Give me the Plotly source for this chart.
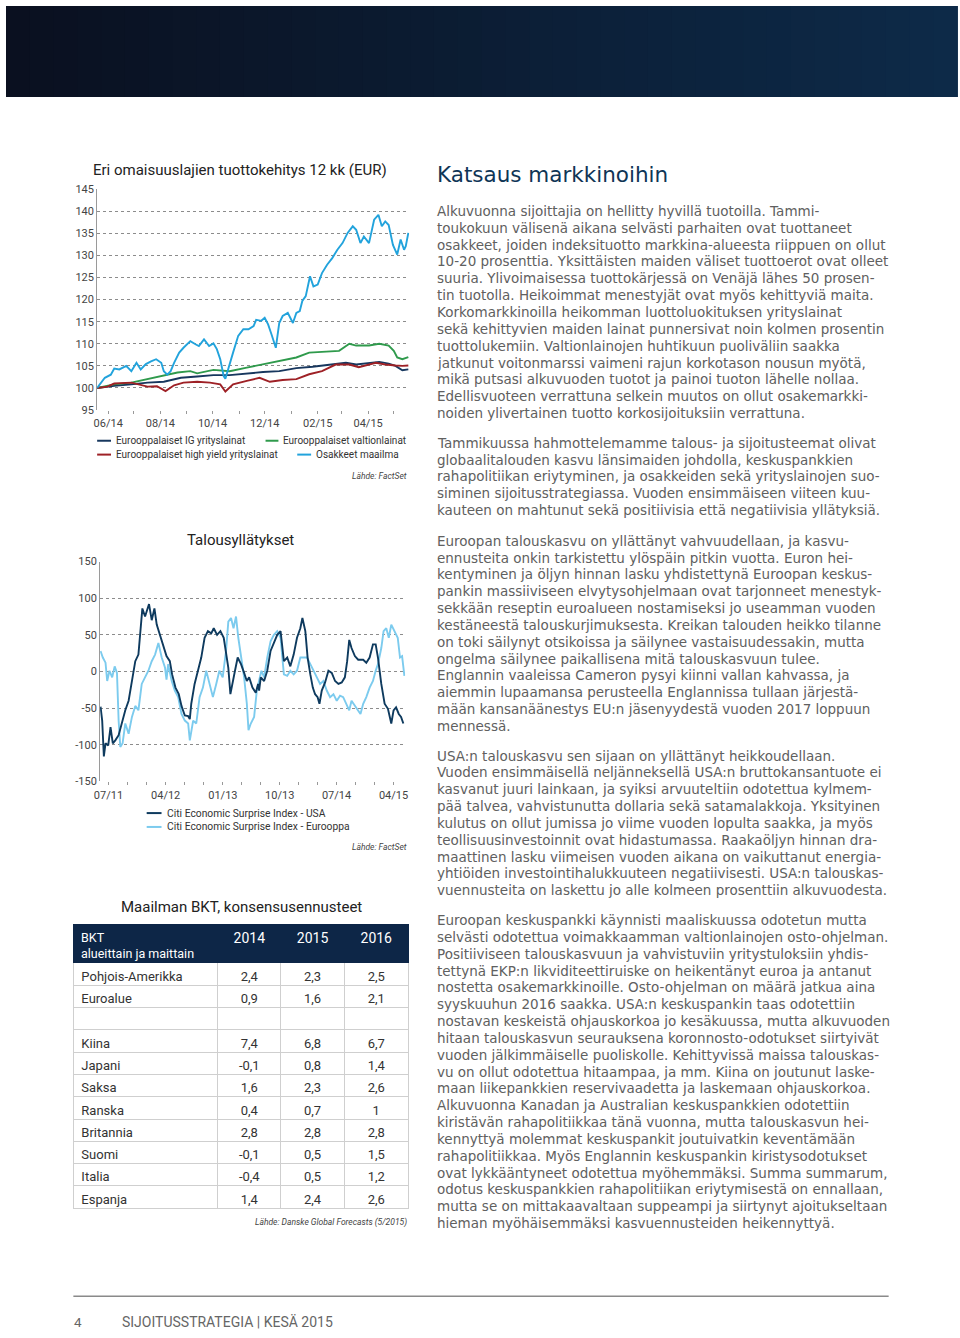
import plotly.graph_objects as go

W, H = 960, 1338
def X(px): return px / W
def Y(py): return 1 - py / H

# ------------------------------------------------------------------ data: chart 1
c1_title = "Eri omaisuuslajien tuottokehitys 12 kk (EUR)"
eq_dates = ["2014-05-19","2014-05-28","2014-06-04","2014-06-08","2014-06-14","2014-06-22","2014-06-28",
            "2014-07-04","2014-07-09","2014-07-15","2014-07-21","2014-07-27","2014-08-02","2014-08-05",
            "2014-08-09","2014-08-13","2014-08-17","2014-08-23","2014-08-28","2014-09-05","2014-09-11",
            "2014-09-15","2014-09-21","2014-09-27","2014-10-02","2014-10-06","2014-10-10","2014-10-14",
            "2014-10-16","2014-10-20","2014-10-25","2014-10-31","2014-11-06","2014-11-12","2014-11-18",
            "2014-11-21","2014-11-27","2014-12-01","2014-12-05","2014-12-09","2014-12-14","2014-12-18",
            "2014-12-22","2014-12-28","2015-01-03","2015-01-07","2015-01-11","2015-01-14","2015-01-18",
            "2015-01-23","2015-01-27","2015-02-01","2015-02-06","2015-02-12","2015-02-18","2015-02-24",
            "2015-03-02","2015-03-08","2015-03-14","2015-03-18","2015-03-23","2015-03-27","2015-04-02",
            "2015-04-08","2015-04-13","2015-04-17","2015-04-21","2015-04-25","2015-04-30","2015-05-05",
            "2015-05-09","2015-05-13","2015-05-15","2015-05-18"]
eq_vals = [100,102.3,103,104.4,104.2,105,103.8,105.7,104.2,105.4,106,106.5,105.7,103.8,103,103.8,105.7,
           108,109.1,110.6,109.9,109.5,111,109.5,110.1,108.8,106.5,102.7,102.1,105,108,111.8,113.3,113.3,
           114,115.4,115.2,115.9,114.4,112.1,109.1,114.7,116.3,117,114.7,117,117.4,119.7,120.8,125.3,123,
           123.4,126,127.9,129.4,131.3,132.8,135.1,136.6,135.8,132.8,134.3,132.8,138.1,139.2,136.6,137.7,
           136.9,132.4,130.2,133.6,131.3,132.1,135.1]

gov_dates = ["2014-05-19","2014-06-08","2014-06-28","2014-07-17","2014-08-05","2014-08-21","2014-09-05",
             "2014-09-13","2014-10-02","2014-10-21","2014-11-10","2014-11-29","2014-12-18","2015-01-07",
             "2015-01-22","2015-02-15","2015-02-26","2015-03-10","2015-03-18","2015-04-02","2015-04-14",
             "2015-04-25","2015-05-01","2015-05-05","2015-05-11","2015-05-18"]
gov_vals = [100,100.8,101.2,102,102.7,103.5,103.8,103.3,104.1,103.8,104.6,105.4,106.1,106.9,108,108.2,
            108.4,110,109.6,109.6,110,109.6,108.4,106.9,106.5,107]

ig_dates = ["2014-05-19","2014-06-08","2014-06-28","2014-07-17","2014-08-05","2014-08-25","2014-09-13",
            "2014-10-02","2014-10-21","2014-11-10","2014-11-29","2014-12-18","2015-01-07","2015-01-26",
            "2015-02-15","2015-03-06","2015-03-18","2015-04-02","2015-04-14","2015-04-25","2015-05-03",
            "2015-05-11","2015-05-18"]
ig_vals = [100,100.5,100.8,101.2,101.4,102.3,102.6,102.9,102.9,103.3,103.6,103.8,104.5,104.8,105.3,105.7,
           105.3,105.7,105.9,105.5,105,104,104.2]

hy_dates = ["2014-05-19","2014-05-31","2014-06-08","2014-06-28","2014-07-17","2014-07-28","2014-08-07",
            "2014-08-17","2014-08-28","2014-09-13","2014-09-28","2014-10-10","2014-10-16","2014-10-25",
            "2014-11-10","2014-11-25","2014-12-07","2014-12-22","2015-01-07","2015-01-22","2015-02-06",
            "2015-02-22","2015-03-10","2015-03-21","2015-04-10","2015-04-21","2015-05-03","2015-05-11",
            "2015-05-18"]
hy_vals = [100,100.3,101,101.2,100.3,100.4,99.3,100.6,101.2,101.4,101.2,100.8,99.2,100.8,101.6,102.3,
           101.4,101.8,102,103.1,103.8,105.3,105.3,104.7,105.7,105.3,105.1,105,105.1]

c1_names = ["Eurooppalaiset IG yrityslainat", "Eurooppalaiset valtionlainat",
            "Eurooppalaiset high yield yrityslainat", "Osakkeet maailma"]
c1_tickvals = ["2014-06-01","2014-07-01","2014-08-01","2014-09-01","2014-10-01","2014-11-01",
               "2014-12-01","2015-01-01","2015-02-01","2015-03-01","2015-04-01","2015-05-01"]
c1_ticktext = ["06/14","","08/14","","10/14","","12/14","","02/15","","04/15",""]
c1_yticks = [95, 100, 105, 110, 115, 120, 125, 130, 135, 140, 145]

# ------------------------------------------------------------------ data: chart 2
c2_title = "Talousyllätykset"
usa_dates = ["2011-05-24","2011-06-01","2011-06-09","2011-06-17","2011-06-30","2011-07-11","2011-07-22",
             "2011-08-03","2011-08-19","2011-09-04","2011-09-20","2011-10-06","2011-10-22","2011-11-07",
             "2011-11-22","2011-11-30","2011-12-11","2011-12-24","2012-01-12","2012-01-25","2012-02-07",
             "2012-02-18","2012-03-05","2012-03-21","2012-04-05","2012-04-21","2012-05-02","2012-05-18",
             "2012-06-03","2012-06-16","2012-07-02","2012-07-18","2012-07-26","2012-08-02","2012-08-18",
             "2012-09-03","2012-09-19","2012-10-05","2012-10-21","2012-11-06","2012-11-18","2012-12-04",
             "2012-12-20","2013-01-05","2013-01-16","2013-01-27","2013-02-06","2013-02-17","2013-02-28",
             "2013-03-13","2013-03-29","2013-04-13","2013-04-26","2013-05-07","2013-05-23","2013-06-08",
             "2013-06-19","2013-06-24","2013-07-02","2013-07-18","2013-08-02","2013-08-18","2013-09-03",
             "2013-09-19","2013-10-05","2013-10-21","2013-11-06","2013-11-21","2013-12-07","2013-12-23",
             "2014-01-08","2014-01-18","2014-02-01","2014-02-12","2014-02-25","2014-03-09","2014-03-20",
             "2014-04-01","2014-04-10","2014-04-21","2014-05-07","2014-05-23","2014-06-08","2014-06-24",
             "2014-07-10","2014-07-26","2014-08-10","2014-08-21","2014-08-31","2014-09-11","2014-09-27",
             "2014-10-13","2014-11-06","2014-11-21","2014-12-07","2014-12-23","2015-01-05","2015-01-16",
             "2015-02-01","2015-02-17","2015-03-05","2015-03-21","2015-04-01","2015-04-13","2015-04-26",
             "2015-05-07","2015-05-18"]
usa_vals = [-48,-67,-116,-98,-101,-76,-98,-94,-87,-69,-53,-40,-13,14,23,50,86,75,92,70,86,64,50,37,21,14,
            -4,-22,-31,-47,-60,-61,-65,-44,-17,1,19,46,55,52,59,50,55,46,28,5,-31,-13,1,19,10,-2,-13,-8,
            -22,-29,-17,-26,-8,-13,1,28,39,50,55,14,19,7,23,46,59,73,55,19,-4,-22,-31,-35,-44,-26,-15,1,
            -2,-13,-17,-15,-8,14,43,32,21,16,16,12,19,37,37,19,-17,-44,-51,-71,-53,-49,-58,-62,-71]

eur_dates = ["2011-05-24","2011-06-04","2011-06-17","2011-06-25","2011-07-06","2011-07-19","2011-07-31",
             "2011-08-11","2011-08-19","2011-08-27","2011-09-07","2011-09-20","2011-10-06","2011-10-22",
             "2011-11-07","2011-11-22","2011-12-08","2011-12-24","2012-01-09","2012-01-25","2012-02-10",
             "2012-02-26","2012-03-13","2012-03-29","2012-04-05","2012-04-13","2012-04-30","2012-05-15",
             "2012-05-31","2012-06-16","2012-07-02","2012-07-18","2012-07-26","2012-08-11","2012-08-26",
             "2012-09-11","2012-09-27","2012-10-13","2012-10-29","2012-11-14","2012-11-30","2012-12-15",
             "2012-12-31","2013-01-16","2013-01-27","2013-02-09","2013-02-21","2013-03-05","2013-03-16",
             "2013-03-29","2013-04-13","2013-04-26","2013-05-04","2013-05-15","2013-05-31","2013-06-13",
             "2013-06-24","2013-07-05","2013-07-18","2013-08-02","2013-08-18","2013-09-03","2013-09-19",
             "2013-10-05","2013-10-21","2013-11-06","2013-11-21","2013-12-07","2013-12-23","2014-01-08",
             "2014-01-24","2014-02-09","2014-02-25","2014-03-13","2014-03-29","2014-04-13","2014-04-29",
             "2014-05-15","2014-05-31","2014-06-16","2014-07-02","2014-07-18","2014-08-02","2014-08-15",
             "2014-08-31","2014-09-11","2014-09-27","2014-10-13","2014-10-24","2014-11-06","2014-11-21",
             "2014-12-07","2014-12-23","2015-01-05","2015-01-16","2015-02-01","2015-02-12","2015-02-25",
             "2015-03-09","2015-03-21","2015-04-05","2015-04-21","2015-05-02","2015-05-12","2015-05-23"]
eur_vals = [28,19,12,-13,1,-8,7,-2,-67,-103,-98,-71,-85,-62,-47,-53,-17,-8,1,14,23,39,19,5,-11,10,-13,
            -26,-35,-58,-67,-71,-94,-67,-71,-35,-22,1,-17,-35,-17,1,-8,28,68,73,59,75,46,19,-8,-44,-80,
            -71,-62,-26,-13,1,-8,19,41,50,55,46,-4,-6,1,-4,1,19,19,19,10,1,-8,-17,-13,-26,-35,-31,-40,
            -33,-35,-44,-53,-40,-47,-53,-58,-44,-35,-22,-13,1,10,32,55,59,46,64,55,46,19,21,-6]

c2_names = ["Citi Economic Surprise Index - USA", "Citi Economic Surprise Index - Eurooppa"]
c2_tickvals = ["2011-07-01","2011-10-01","2012-01-01","2012-04-01","2012-07-01","2012-10-01",
               "2013-01-01","2013-04-01","2013-07-01","2013-10-01","2014-01-01","2014-04-01",
               "2014-07-01","2014-10-01","2015-01-01","2015-04-01"]
c2_ticktext = ["07/11","","","04/12","","","01/13","","","10/13","","","07/14","","","04/15"]
c2_yticks = [-150, -100, -50, 0, 50, 100, 150]
c2_yticktext = ["-150", "-100", "-50", "0", "50", "100", "150"]

# ------------------------------------------------------------------ data: table
tbl_title = "Maailman BKT, konsensusennusteet"
tbl_first_header = "BKT<br>alueittain ja maittain"
tbl_years = ["2014", "2015", "2016"]
tbl_regions = ["Pohjois-Amerikka", "Euroalue", "", "Kiina", "Japani", "Saksa", "Ranska",
               "Britannia", "Suomi", "Italia", "Espanja"]
gdp_2014 = ["2,4", "0,9", "", "7,4", "-0,1", "1,6", "0,4", "2,8", "-0,1", "-0,4", "1,4"]
gdp_2015 = ["2,3", "1,6", "", "6,8", "0,8", "2,3", "0,7", "2,8", "0,5", "0,5", "2,4"]
gdp_2016 = ["2,5", "2,1", "", "6,7", "1,4", "2,6", "1", "2,8", "1,5", "1,2", "2,6"]

# ------------------------------------------------------------------ text
heading = "Katsaus markkinoihin"
paragraphs = [
    ["Alkuvuonna sijoittajia on hellitty hyvillä tuotoilla. Tammi-",
     "toukokuun välisenä aikana selvästi parhaiten ovat tuottaneet",
     "osakkeet, joiden indeksituotto markkina-alueesta riippuen on ollut",
     "10-20 prosenttia. Yksittäisten maiden väliset tuottoerot ovat olleet",
     "suuria. Ylivoimaisessa tuottokärjessä on Venäjä lähes 50 prosen-",
     "tin tuotolla. Heikoimmat menestyjät ovat myös kehittyviä maita.",
     "Korkomarkkinoilla heikomman luottoluokituksen yrityslainat",
     "sekä kehittyvien maiden lainat punnersivat noin kolmen prosentin",
     "tuottolukemiin. Valtionlainojen huhtikuun puoliväliin saakka",
     "jatkunut voitonmarssi vaimeni rajun korkotason nousun myötä,",
     "mikä putsasi alkuvuoden tuotot ja painoi tuoton lähelle nollaa.",
     "Edellisvuoteen verrattuna selkein muutos on ollut osakemarkki-",
     "noiden ylivertainen tuotto korkosijoituksiin verrattuna."],
    ["Tammikuussa hahmottelemamme talous- ja sijoitusteemat olivat",
     "globaalitalouden kasvu länsimaiden johdolla, keskuspankkien",
     "rahapolitiikan eriytyminen, ja osakkeiden sekä yrityslainojen suo-",
     "siminen sijoitusstrategiassa. Vuoden ensimmäiseen viiteen kuu-",
     "kauteen on mahtunut sekä positiivisia että negatiivisia yllätyksiä."],
    ["Euroopan talouskasvu on yllättänyt vahvuudellaan, ja kasvu-",
     "ennusteita onkin tarkistettu ylöspäin pitkin vuotta. Euron hei-",
     "kentyminen ja öljyn hinnan lasku yhdistettynä Euroopan keskus-",
     "pankin massiiviseen elvytysohjelmaan ovat tarjonneet menestyk-",
     "sekkään reseptin euroalueen nostamiseksi jo useamman vuoden",
     "kestäneestä talouskurjimuksesta. Kreikan talouden heikko tilanne",
     "on toki säilynyt otsikoissa ja säilynee vastaisuudessakin, mutta",
     "ongelma säilynee paikallisena mitä talouskasvuun tulee.",
     "Englannin vaaleissa Cameron pysyi kiinni vallan kahvassa, ja",
     "aiemmin lupaamansa perusteella Englannissa tullaan järjestä-",
     "mään kansanäänestys EU:n jäsenyydestä vuoden 2017 loppuun",
     "mennessä."],
    ["USA:n talouskasvu sen sijaan on yllättänyt heikkoudellaan.",
     "Vuoden ensimmäisellä neljänneksellä USA:n bruttokansantuote ei",
     "kasvanut juuri lainkaan, ja syiksi arvuuteltiin odotettua kylmem-",
     "pää talvea, vahvistunutta dollaria sekä satamalakkoja. Yksityinen",
     "kulutus on ollut jumissa jo viime vuoden lopulta saakka, ja myös",
     "teollisuusinvestoinnit ovat hidastumassa. Raakaöljyn hinnan dra-",
     "maattinen lasku viimeisen vuoden aikana on vaikuttanut energia-",
     "yhtiöiden investointihalukkuuteen negatiivisesti. USA:n talouskas-",
     "vuennusteita on laskettu jo alle kolmeen prosenttiin alkuvuodesta."],
    ["Euroopan keskuspankki käynnisti maaliskuussa odotetun mutta",
     "selvästi odotettua voimakkaamman valtionlainojen osto-ohjelman.",
     "Positiiviseen talouskasvuun ja vahvistuviin yritystuloksiin yhdis-",
     "tettynä EKP:n likviditeettiruiske on heikentänyt euroa ja antanut",
     "nostetta osakemarkkinoille. Osto-ohjelman on määrä jatkua aina",
     "syyskuuhun 2016 saakka. USA:n keskuspankin taas odotettiin",
     "nostavan keskeistä ohjauskorkoa jo kesäkuussa, mutta alkuvuoden",
     "hitaan talouskasvun seurauksena koronnosto-odotukset siirtyivät",
     "vuoden jälkimmäiselle puoliskolle. Kehittyvissä maissa talouskas-",
     "vu on ollut odotettua hitaampaa, ja mm. Kiina on joutunut laske-",
     "maan liikepankkien reservivaadetta ja laskemaan ohjauskorkoa.",
     "Alkuvuonna Kanadan ja Australian keskuspankkien odotettiin",
     "kiristävän rahapolitiikkaa tänä vuonna, mutta talouskasvun hei-",
     "kennyttyä molemmat keskuspankit joutuivatkin keventämään",
     "rahapolitiikkaa. Myös Englannin keskuspankin kiristysodotukset",
     "ovat lykkääntyneet odotettua myöhemmäksi. Summa summarum,",
     "odotus keskuspankkien rahapolitiikan eriytymisestä on ennallaan,",
     "mutta se on mittakaavaltaan suppeampi ja siirtynyt ajoitukseltaan",
     "hieman myöhäisemmäksi kasvuennusteiden heikennyttyä."],
]
para_start = [207, 441, 540, 757, 923]
footer_page = "4"
footer_text = "SIJOITUSSTRATEGIA | KESÄ 2015"

# ------------------------------------------------------------------ styles
FONT = "Roboto"
BODY = "DejaVu Sans"
NAVY = "#17375e"
GREEN = "#2f9a4c"
RED = "#9e2126"
SKY = "#22a3dc"
USA_C = "#0e3a5e"
EUR_C = "#7ccbee"
GRID = "#8c8c8c"
TICKF = dict(family=FONT, size=11, color="#444444")

fig = go.Figure()

for d, v, c in [(ig_dates, ig_vals, NAVY), (gov_dates, gov_vals, GREEN),
                (hy_dates, hy_vals, RED), (eq_dates, eq_vals, SKY)]:
    fig.add_trace(go.Scatter(x=d, y=v, mode="lines", line=dict(color=c, width=1.9),
                             xaxis="x", yaxis="y", showlegend=False, hoverinfo="skip"))
for d, v, c in [(eur_dates, eur_vals, EUR_C), (usa_dates, usa_vals, USA_C)]:
    fig.add_trace(go.Scatter(x=d, y=v, mode="lines", line=dict(color=c, width=1.9),
                             xaxis="x2", yaxis="y2", showlegend=False, hoverinfo="skip"))

HDR = "#0d2647"
fig.add_trace(go.Table(
    domain=dict(x=[X(68), X(407)], y=[Y(1262), Y(928)]),
    columnwidth=[146, 64, 64, 65],
    header=dict(values=[""] + tbl_years, fill_color=HDR, line_color=HDR,
                align=["left", "center", "center", "center"],
                font=dict(family=FONT, color="white", size=14),
                height=38),
    cells=dict(values=[tbl_regions, gdp_2014, gdp_2015, gdp_2016],
               fill_color="white", line_color="#cfcfcf",
               align=["left", "center", "center", "center"],
               font=dict(family=FONT, color="#333333", size=13), height=22.3)))

ann = []
shapes = []
def txt(s, px, py, size, color, xanchor="left", family=FONT):
    ann.append(dict(text=s, x=X(px), y=Y(py), xref="paper", yref="paper", showarrow=False,
                    xanchor=xanchor, yanchor="middle", align=xanchor if xanchor != "center" else "center",
                    font=dict(size=size, color=color, family=family)))
def hline(x0, x1, y, color, width):
    shapes.append(dict(type="line", xref="paper", yref="paper", x0=X(x0), x1=X(x1),
                       y0=Y(y), y1=Y(y), line=dict(color=color, width=width)))

# top band (gradient strips)
n = 40
c0, c1 = (10, 16, 32), (13, 42, 72)
for i in range(n):
    t = i / (n - 1)
    col = "rgb(%d,%d,%d)" % tuple(round(a + (b - a) * t) for a, b in zip(c0, c1))
    shapes.append(dict(type="rect", xref="paper", yref="paper", x0=i / n, x1=(i + 1) / n + 0.001,
                       y0=Y(92), y1=1, fillcolor=col, line=dict(width=0), layer="below"))

txt(c1_title, 86, 166, 15, "#222222")
hline(92, 106, 439, NAVY, 2); txt(c1_names[0], 109, 439, 10, "#333333")
hline(262, 275, 439, GREEN, 2); txt(c1_names[1], 278, 439, 10, "#333333")
hline(92, 106, 453, RED, 2); txt(c1_names[2], 109, 453, 10, "#333333")
hline(294, 308, 453, SKY, 2); txt(c1_names[3], 311, 453, 10, "#333333")
txt("<i>Lähde: FactSet</i>", 407, 475, 8.5, "#444444", "right")

txt(c2_title, 237, 539, 15, "#222222", "center")
hline(142, 157, 815, USA_C, 2); txt(c2_names[0], 161, 815, 10.3, "#333333")
hline(142, 157, 829, EUR_C, 2); txt(c2_names[1], 161, 829, 10.3, "#333333")
txt("<i>Lähde: FactSet</i>", 407, 849, 8.5, "#444444", "right")

txt(tbl_title, 238, 910, 15, "#222222", "center")
txt(tbl_first_header, 74, 949, 12.5, "white")
txt("<i>Lähde: Danske Global Forecasts (5/2015)</i>", 407, 1228, 8.5, "#444444", "right")

txt(heading, 433, 170, 21.5, "#0f3556", "left", BODY)
for start, lines in zip(para_start, paragraphs):
    for i, line in enumerate(lines):
        txt(line, 433, start + 17 * i, 13.5, "#606060", "left", BODY)

hline(68, 891, 1303, "#8a8a8a", 1.5)
txt(footer_page, 67, 1329, 13.5, "#666666")
txt(footer_text, 115, 1329, 14, "#666666")

fig.update_layout(
    width=W, height=H, autosize=False, margin=dict(l=0, r=0, t=0, b=0),
    paper_bgcolor="white", plot_bgcolor="white", showlegend=False,
    annotations=ann, shapes=shapes,
    xaxis=dict(domain=[X(92), X(407)], anchor="y", type="date",
               range=["2014-05-19", "2015-05-19"], tickmode="array",
               tickvals=c1_tickvals, ticktext=c1_ticktext, tickangle=0,
               ticks="outside", ticklen=3, tickcolor="#999999",
               showgrid=False, showline=False, zeroline=False, tickfont=TICKF),
    yaxis=dict(domain=[Y(408), Y(185)], anchor="x", range=[95, 145],
               tickmode="array", tickvals=c1_yticks,
               showgrid=True, gridcolor=GRID, griddash="dot", gridwidth=1,
               showline=True, linecolor="#9a9a9a", linewidth=1, ticks="",
               zeroline=False, tickfont=TICKF),
    xaxis2=dict(domain=[X(95), X(403)], anchor="y2", type="date",
                range=["2011-05-22", "2015-05-27"], tickmode="array",
                tickvals=c2_tickvals, ticktext=c2_ticktext, tickangle=0,
                ticks="outside", ticklen=3, tickcolor="#999999",
                showgrid=False, showline=False, zeroline=False, tickfont=TICKF),
    yaxis2=dict(domain=[Y(783), Y(561)], anchor="x2", range=[-150, 150],
                tickmode="array", tickvals=c2_yticks, ticktext=c2_yticktext,
                showgrid=True, gridcolor=GRID, griddash="dot", gridwidth=1,
                showline=True, linecolor="#9a9a9a", linewidth=1, ticks="",
                zeroline=False, tickfont=TICKF),
)

fig.write_html("out.html", config={"displayModeBar": False, "staticPlot": True},
               post_script="document.body.style.margin='0';document.body.style.overflow='hidden';")
